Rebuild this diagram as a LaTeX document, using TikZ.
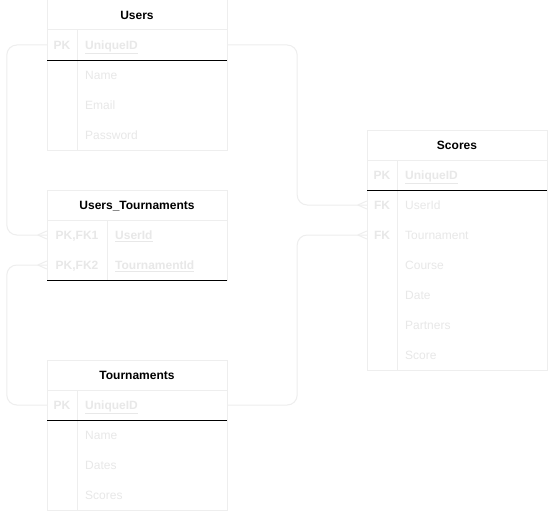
\documentclass[tikz,border=0pt]{standalone}
\usepackage{fontspec}
\setmainfont{Liberation Sans}
\usetikzlibrary{calc}
\definecolor{linec}{RGB}{238,238,238}
\definecolor{txtc}{RGB}{232,232,232}
\newcommand{\crowfoot}[1]{\draw[conn] ($(#1)+(-9,0)$) -- ($(#1)+(0,-4)$) ($(#1)+(-9,0)$) -- ($(#1)+(0,4)$);}
\tikzset{
  tbl/.style={draw=linec, line width=1pt, rectangle, minimum width=180pt, inner sep=0pt, fill=white},
  row/.style={rectangle, minimum width=180pt, minimum height=30pt, inner sep=0pt},
  txt/.style={font=\fontsize{12}{14}\selectfont, inner sep=0pt, text height=9.6pt, text depth=1pt},
  hdr/.style={txt, font=\fontsize{12}{14}\selectfont\bfseries, text=black},
  keyt/.style={txt, font=\fontsize{12}{14}\selectfont\bfseries, text=txtc},
  fld/.style={txt, text=txtc, anchor=west},
  pkf/.style={font=\fontsize{12}{14}\selectfont\bfseries},
  grid/.style={draw=linec, line width=1pt},
  sep/.style={draw=black, line width=1pt},
  conn/.style={draw=linec, line width=1pt, rounded corners=10pt},
}
\begin{document}
\begin{tikzpicture}[x=1pt,y=-1pt]
\fill[white] (0,0) rectangle (548,511);
\useasboundingbox (0,0) rectangle (548,511);

% ---------- Users ----------
\node[tbl, minimum height=150pt] (users) at (137,75) {};
\node[hdr] (usersH) at (137,15) {Users};
\draw[grid] (47,30) -- (227,30) (77,30) -- (77,150);
\node[row] (uPK) at (137,45) {};
\node[keyt] (uPKk) at (62,45) {PK};
\node[fld,pkf] (uPKf) at (85,45) {\underline{UniqueID}};
\draw[sep] (47,60) -- (227,60);
\node[fld] (uName) at (85,75) {Name};
\node[fld] (uEmail) at (85,105) {Email};
\node[fld] (uPass) at (85,135) {Password};

% ---------- Users_Tournaments ----------
\node[tbl, minimum height=90pt] (ut) at (137,235) {};
\node[hdr] (utH) at (137,205) {Users\_Tournaments};
\draw[grid] (47,220) -- (227,220) (107,220) -- (107,280);
\node[row] (utU) at (137,235) {};
\node[row] (utT) at (137,265) {};
\node[keyt] (utUk) at (77,235) {PK,FK1};
\node[fld,pkf] (utUf) at (115,235) {\underline{UserId}};
\node[keyt] (utTk) at (77,265) {PK,FK2};
\node[fld,pkf] (utTf) at (115,265) {\underline{TournamentId}};
\draw[sep] (47,280) -- (227,280);

% ---------- Tournaments ----------
\node[tbl, minimum height=150pt] (tr) at (137,435) {};
\node[hdr] (trH) at (137,375) {Tournaments};
\draw[grid] (47,390) -- (227,390) (77,390) -- (77,510);
\node[row] (tPK) at (137,405) {};
\node[keyt] (tPKk) at (62,405) {PK};
\node[fld,pkf] (tPKf) at (85,405) {\underline{UniqueID}};
\draw[sep] (47,420) -- (227,420);
\node[fld] (tName) at (85,435) {Name};
\node[fld] (tDates) at (85,465) {Dates};
\node[fld] (tScores) at (85,495) {Scores};

% ---------- Scores ----------
\node[tbl, minimum height=240pt] (sc) at (457,250) {};
\node[hdr] (scH) at (457,145) {Scores};
\draw[grid] (367,160) -- (547,160) (397,160) -- (397,370);
\node[keyt] (sPKk) at (382,175) {PK};
\node[fld,pkf] (sPKf) at (405,175) {\underline{UniqueID}};
\draw[sep] (367,190) -- (547,190);
\node[row] (sU) at (457,205) {};
\node[row] (sT) at (457,235) {};
\node[keyt] (sUk) at (382,205) {FK};
\node[fld] (sUf) at (405,205) {UserId};
\node[keyt] (sTk) at (382,235) {FK};
\node[fld] (sTf) at (405,235) {Tournament};
\node[fld] (sCourse) at (405,265) {Course};
\node[fld] (sDate) at (405,295) {Date};
\node[fld] (sPart) at (405,325) {Partners};
\node[fld] (sScore) at (405,355) {Score};

% ---------- Connectors ----------
\draw[conn] (uPK.west) -- ++(-40,0) |- (utU.west);
\draw[conn] (uPK.east) -- ++(70,0) |- (sU.west);
\draw[conn] (tPK.west) -- ++(-40,0) |- (utT.west);
\draw[conn] (tPK.east) -- ++(70,0) |- (sT.west);
\crowfoot{utU.west}
\crowfoot{utT.west}
\crowfoot{sU.west}
\crowfoot{sT.west}
\end{tikzpicture}
\end{document}
